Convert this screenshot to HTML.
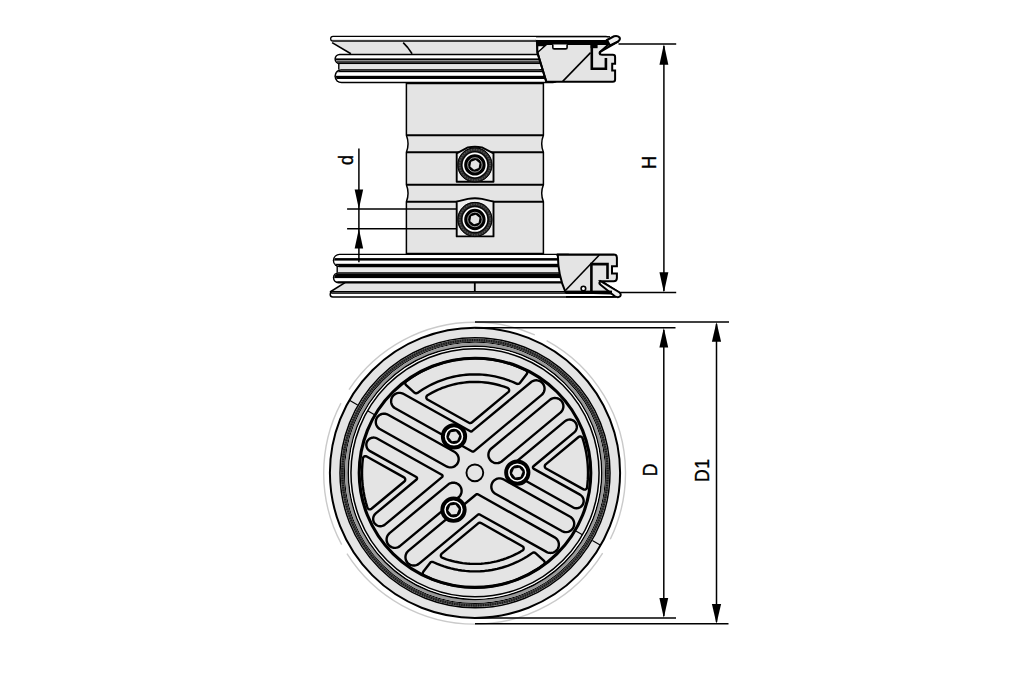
<!DOCTYPE html>
<html><head><meta charset="utf-8"><style>
html,body{margin:0;padding:0;background:#fff;width:1010px;height:673px;overflow:hidden}
svg{display:block}
</style></head><body>
<svg width="1010" height="673" viewBox="0 0 1010 673">
<rect width="1010" height="673" fill="#fff"/>
<path d="M406.4,83.6 L543.4,83.6 L543.4,135.3 Q540.0,143.8 543.4,152.3 L543.4,184.8 Q540.0,193.3 543.4,201.7 L543.4,253.5 L406.4,253.5 L406.4,201.7 Q409.7,193.3 406.4,184.8 L406.4,152.3 Q409.7,143.8 406.4,135.3 Z" fill="#e4e4e4" stroke="#000" stroke-width="1.5"/>
<g stroke="#000" stroke-width="2.1">
<line x1="406.4" y1="135.3" x2="543.4" y2="135.3"/>
<line x1="406.4" y1="152.3" x2="543.4" y2="152.3"/>
<line x1="406.4" y1="184.8" x2="543.4" y2="184.8"/>
<line x1="406.4" y1="201.7" x2="543.4" y2="201.7"/>
</g>
<path d="M456.7,181.8 L456.7,153.3 L467.9,147.4 Q474.9,146.2 481.9,147.4 L493.5,153.3 L493.5,181.8Z" fill="#efefef" stroke="#000" stroke-width="1.9" stroke-linejoin="round"/><circle cx="474.9" cy="164.9" r="14.9" fill="#000" stroke="#2a2a2a" stroke-width="5"/><circle cx="474.9" cy="164.9" r="17.1" fill="none" stroke="#000" stroke-width="1"/><circle cx="474.9" cy="164.9" r="15.3" fill="none" stroke="#555" stroke-width="1.5" stroke-dasharray="1.2 1.4"/><circle cx="474.9" cy="164.9" r="13.4" fill="none" stroke="#000" stroke-width="1"/><circle cx="474.9" cy="164.9" r="11.5" fill="none" stroke="#fff" stroke-width="1.6"/><circle cx="474.9" cy="164.9" r="7.25" fill="none" stroke="#c8c8c8" stroke-width="0.8"/><path d="M474.05,169.73 470.3,166.58 471.15,161.75 475.75,160.07 479.5,163.22 478.65,168.05Z" fill="#e4e4e4"/>
<path d="M456.7,236.4 L456.7,201.7 L467.9,198.9 Q474.9,197.7 481.9,198.9 L493.5,201.7 L493.5,236.4Z" fill="#efefef" stroke="#000" stroke-width="1.9" stroke-linejoin="round"/><circle cx="474.9" cy="219.5" r="14.9" fill="#000" stroke="#2a2a2a" stroke-width="5"/><circle cx="474.9" cy="219.5" r="17.1" fill="none" stroke="#000" stroke-width="1"/><circle cx="474.9" cy="219.5" r="15.3" fill="none" stroke="#555" stroke-width="1.5" stroke-dasharray="1.2 1.4"/><circle cx="474.9" cy="219.5" r="13.4" fill="none" stroke="#000" stroke-width="1"/><circle cx="474.9" cy="219.5" r="11.5" fill="none" stroke="#fff" stroke-width="1.6"/><circle cx="474.9" cy="219.5" r="7.25" fill="none" stroke="#c8c8c8" stroke-width="0.8"/><path d="M474.05,224.33 470.3,221.18 471.15,216.35 475.75,214.67 479.5,217.82 478.65,222.65Z" fill="#e4e4e4"/>
<path d="M331.5,41.8 L537.5,41.8 L538.5,54 L351,54 Z" fill="#e4e4e4"/>
<rect x="330" y="35.8" width="279" height="6" rx="3" fill="#000"/><clipPath id="cb1"><rect x="331.3" y="37.1" width="276.4" height="3.4" rx="1.7"/></clipPath><rect x="331.3" y="37.1" width="276.4" height="3.4" rx="1.7" fill="#fff"/><g clip-path="url(#cb1)"><rect x="330" y="39.9" width="279" height="1.9" fill="#000"/></g>
<rect x="334.4" y="53.7" width="225.6" height="10.6" rx="5.3" fill="#000"/><clipPath id="cb2"><rect x="335.9" y="55.2" width="222.6" height="7.6" rx="3.8"/></clipPath><rect x="335.9" y="55.2" width="222.6" height="7.6" rx="3.8" fill="#fff"/><g clip-path="url(#cb2)"><rect x="334.4" y="58.4" width="225.6" height="2" fill="#000"/><rect x="334.4" y="60.4" width="225.6" height="0.8" fill="#8a8a8a"/><rect x="334.4" y="61.3" width="225.6" height="3" fill="#000"/></g>
<rect x="334.4" y="69" width="225.6" height="14.3" rx="7.1" fill="#000"/><clipPath id="cb3"><rect x="335.9" y="70.5" width="222.6" height="11.3" rx="5.6"/></clipPath><rect x="335.9" y="70.5" width="222.6" height="11.3" rx="5.6" fill="#fff"/><g clip-path="url(#cb3)"><rect x="334.4" y="69" width="225.6" height="3.2" fill="#000"/><rect x="334.4" y="75.8" width="225.6" height="3.2" fill="#000"/></g>
<rect x="339.5" y="64.3" width="200" height="4.9" fill="#e4e4e4"/>
<line x1="338.8" y1="64" x2="338.8" y2="69.5" stroke="#000" stroke-width="1.4"/>
<line x1="332.1" y1="42.6" x2="350.9" y2="53.8" stroke="#000" stroke-width="1.6"/>
<path d="M403.2,42.6 L407.6,47.4 L412.1,53.8" fill="none" stroke="#000" stroke-width="1.6" stroke-linejoin="round"/>
<path d="M537.3,44 L537.5,52.8 Q541.5,66 546.3,81.8 L612.8,81.8 Q615.1,81.8 615.1,79.5 L615.1,70.6 L612.2,70.6 L612.2,63.7 L615.1,63.7 L615.1,57 Q615.1,54.7 612.8,54.7 L602.2,54.7 Q599.6,54.7 599.8,52.3 L609,44 Z" fill="#e4e4e4" stroke="#000" stroke-width="2"/>
<path d="M536.8,39.5 L537.5,52.8 Q541.5,66 546.3,81.8" fill="none" stroke="#000" stroke-width="2"/>
<rect x="536" y="36.1" width="74" height="1.5" fill="#000"/>
<rect x="536" y="39.9" width="73" height="4.1" fill="#000"/>
<rect x="536" y="37.6" width="73" height="2.3" fill="#fff"/>
<path d="M607,40 L614,36.3 Q617.5,35.3 619.6,37.5 Q620.6,39.3 618.4,41.3 L610,45.5 Z" fill="#f0f0f0" stroke="#000" stroke-width="2"/>
<path d="M618.4,41.3 L600.2,51.8 Q599,53.4 600.6,54.7" fill="none" stroke="#000" stroke-width="2"/>
<rect x="590.6" y="44.6" width="7" height="3.6" fill="#000"/>
<path d="M537.6,45.6 L545.2,45.6 L537.6,52.4 Z" fill="#fff" stroke="#000" stroke-width="1.4"/>
<path d="M552.8,44.6 L552.8,47.4 Q552.8,48.9 554.3,48.9 L565.6,48.9 Q567.1,48.9 567.1,47.4 L567.1,44.6" fill="#fff" stroke="#000" stroke-width="1.6"/>
<path d="M591.8,44.5 L591.8,68.8 L605.9,68.8 L605.9,58" fill="none" stroke="#000" stroke-width="2.6"/>
<line x1="562.7" y1="81.4" x2="590.6" y2="52.6" stroke="#000" stroke-width="1.6"/>
<path d="M343.9,283 L563.5,283 L566,291.2 L330.2,291.2 Z" fill="#e4e4e4"/>
<rect x="338" y="266.5" width="222" height="6" fill="#e8e8e8"/>
<rect x="332.8" y="253.7" width="242.2" height="13.5" rx="6.7" fill="#000"/><clipPath id="cb4"><rect x="334.1" y="255" width="239.6" height="10.9" rx="5.4"/></clipPath><rect x="334.1" y="255" width="239.6" height="10.9" rx="5.4" fill="#fff"/><g clip-path="url(#cb4)"><rect x="332.8" y="258.1" width="242.2" height="2.5" fill="#000"/><rect x="332.8" y="263.8" width="242.2" height="3.4" fill="#000"/></g>
<rect x="332.8" y="272.2" width="242.2" height="11.2" rx="5.6" fill="#000"/><clipPath id="cb5"><rect x="334.3" y="273.7" width="239.2" height="8.2" rx="4.1"/></clipPath><rect x="334.3" y="273.7" width="239.2" height="8.2" rx="4.1" fill="#fff"/><g clip-path="url(#cb5)"><rect x="332.8" y="272.2" width="242.2" height="5.9" fill="#000"/><rect x="332.8" y="281.2" width="242.2" height="2.2" fill="#000"/></g>
<rect x="329.5" y="291.1" width="287.5" height="6.6" rx="3.3" fill="#000"/><clipPath id="cb6"><rect x="331" y="292.6" width="284.5" height="3.6" rx="1.8"/></clipPath><rect x="331" y="292.6" width="284.5" height="3.6" rx="1.8" fill="#fff"/><g clip-path="url(#cb6)"><rect x="329.5" y="291.1" width="287.5" height="2.7" fill="#000"/></g>
<line x1="337.2" y1="266" x2="337.2" y2="272.8" stroke="#000" stroke-width="1.4"/>
<path d="M345,282.6 L330,292" stroke="#000" stroke-width="1.6" fill="none"/>
<line x1="474.8" y1="282.6" x2="474.8" y2="291.3" stroke="#000" stroke-width="1.8"/>
<path d="M557.8,254.6 L613.9,254.6 Q616.9,254.6 616.9,257.6 L616.9,266.2 L612,266.2 L612,273.5 L616.9,273.5 L616.9,278 Q616.9,281.2 613.7,281.2 L601.2,281.2 L617.5,291.5 L612,293.5 L565.6,292.3 Q558,276 557.8,254.6 Z" fill="#e4e4e4" stroke="#000" stroke-width="2"/>
<path d="M556,254.7 L613.9,254.7" stroke="#000" stroke-width="1.6"/>
<path d="M600.2,281 Q598.5,283.2 600.5,284.8 L614.5,296 Q618,298.2 620.2,296.3 Q621.8,293.8 618.8,292 Z" fill="#f0f0f0" stroke="#000" stroke-width="2"/>
<path d="M591.4,291.3 L591.4,264.1 L607.5,264.1 L607.5,279" fill="none" stroke="#000" stroke-width="2.6"/>
<line x1="565.6" y1="290.2" x2="599.3" y2="255" stroke="#000" stroke-width="1.6"/>
<rect x="566" y="290.6" width="46" height="3.2" fill="#000"/>
<circle cx="583.4" cy="288.5" r="2.3" fill="#fff" stroke="#000" stroke-width="1.6"/>
<rect x="566" y="296" width="50" height="1.7" fill="#000"/>

<g id="bottom">
 <circle cx="474.6" cy="473.2" r="150.9" fill="none" stroke="#cacaca" stroke-width="1.4" stroke-dasharray="68.34 15.77 304.90 10.51 147.19 15.77 210.28 13.14 160.35 0.00"/>
 <circle cx="475.0" cy="472.8" r="145.1" fill="#e4e4e4" stroke="#000" stroke-width="2.0"/>
 <g fill="none">
  <circle cx="475.0" cy="472.8" r="135" stroke="#000" stroke-width="1.5"/>
  <circle cx="475.0" cy="472.8" r="132.65" stroke="#4a4a4a" stroke-width="3.1"/>
  <circle cx="475.0" cy="472.8" r="132.65" stroke="#1a1a1a" stroke-width="2.2" stroke-dasharray="1.3 1.1"/>
  <circle cx="475.0" cy="472.8" r="130.55" stroke="#000" stroke-width="1.1"/>
  <circle cx="475.0" cy="472.8" r="128.7" stroke="#9a9a9a" stroke-width="2.6"/>
  <circle cx="475.0" cy="472.8" r="126.65" stroke="#000" stroke-width="1.5"/>
  <circle cx="475.0" cy="472.8" r="125.35" stroke="#fff" stroke-width="1.1"/>
  <circle cx="475.0" cy="472.8" r="124.05" stroke="#000" stroke-width="1.5"/>
  <ellipse cx="475.0" cy="472.8" rx="115.8" ry="114.6" stroke="#000" stroke-width="3.1"/>
 </g>
 <line x1="592.35" y1="540.55" x2="600.14" y2="545.05" stroke="#000" stroke-width="1.2"/><line x1="575.03" y1="530.55" x2="582.39" y2="534.8" stroke="#000" stroke-width="1.2"/><line x1="357.65" y1="405.05" x2="349.86" y2="400.55" stroke="#000" stroke-width="1.2"/><line x1="374.97" y1="415.05" x2="367.61" y2="410.8" stroke="#000" stroke-width="1.2"/>
 <path d="M561.86,531.06 563.35,531.71 564.74,532.03 566.36,532.1 567.97,531.86 569.5,531.3 570.89,530.46 572.09,529.36 572.95,528.22 573.67,526.76 574.1,525.19 574.21,523.57 574.05,522.16 573.57,520.6 572.79,519.17 571.9,518.06 570.66,517.01 502.93,479.07 501.58,478.62 500.17,478.4 498.75,478.42 497.35,478.69 496.02,479.19 494.79,479.92 493.71,480.84 492.8,481.93 492,483.35 491.5,484.9 491.31,486.52 491.43,488.14 491.88,489.7 492.61,491.15 493.62,492.43 494.86,493.49ZM388.14,414.74 386.65,414.09 385.06,413.74 383.43,413.71 382.03,413.94 380.5,414.5 379.11,415.34 378.05,416.29 377.05,417.58 376.33,419.04 375.9,420.61 375.79,422.23 375.95,423.64 376.43,425.2 377.1,426.46 378.1,427.74 379.34,428.79 447.07,466.73 448.42,467.18 449.83,467.4 451.25,467.38 452.65,467.11 453.98,466.61 455.21,465.88 456.29,464.96 457.2,463.87 458,462.45 458.5,460.9 458.69,459.28 458.57,457.66 458.12,456.1 457.39,454.65 456.38,453.37 455.14,452.31ZM560.42,412.65 561.43,411.65 562.36,410.31 563.01,408.82 563.36,407.23 563.39,405.61 563.1,404 562.5,402.49 561.75,401.28 560.8,400.22 559.51,399.23 558.05,398.51 556.48,398.08 554.86,397.97 553.44,398.14 551.89,398.62 550.46,399.4 490.77,449.04 489.86,450.13 489.16,451.37 488.67,452.71 488.42,454.11 488.41,455.53 488.64,456.94 489.12,458.28 489.81,459.52 490.85,460.78 492.12,461.8 493.56,462.56 495.12,463.02 496.74,463.17 498.35,463 499.91,462.52 501.34,461.74ZM389.58,533.15 388.44,534.31 387.54,535.66 386.99,536.98 386.64,538.57 386.61,540.19 386.9,541.8 387.5,543.31 388.25,544.52 389.35,545.72 390.67,546.68 392.14,547.36 393.52,547.72 395.14,547.83 396.76,547.62 398.3,547.1 399.54,546.4 459.23,496.76 460.14,495.67 460.84,494.43 461.33,493.09 461.58,491.69 461.59,490.27 461.36,488.86 460.88,487.52 460.19,486.28 459.15,485.02 457.88,484 456.44,483.24 454.88,482.78 453.26,482.63 451.65,482.8 450.09,483.28 448.66,484.06ZM579.97,494.67 533.45,468.58 533.17,468.26 533.03,468 532.93,467.58 532.93,467.29 533.04,466.87 533.17,466.61 533.46,466.29 574.24,432.37 575.12,431.5 575.94,430.34 576.51,429.03 576.81,427.65 576.84,426.23 576.59,424.83 576.07,423.5 575.31,422.31 574.32,421.28 573.32,420.56 572.32,420.07 571.14,419.71 569.91,419.55 568.69,419.6 567.49,419.86 566.45,420.27 565.38,420.91 507.99,468.62 507.75,468.86 507.56,469.18 507.46,469.52 507.44,469.88 507.5,470.24 507.66,470.57 507.88,470.85 508.21,471.1 573.34,507.55 574.38,507.95 575.57,508.19 576.8,508.23 577.9,508.09 579.06,507.75 580.17,507.21 581.08,506.56 581.94,505.71 582.76,504.52 583.33,503.21 583.54,502.4 583.65,501.69 583.64,500.26 583.35,498.84 582.8,497.52 582.35,496.81 581.91,496.25 580.85,495.25ZM545.68,464.32 545.21,464.83 544.93,465.36 544.78,465.95 544.78,466.55 544.92,467.14 545.2,467.67 545.6,468.12 546.06,468.46 583.52,489.42 583.98,489.58 584.46,489.65 585.3,489.55 585.75,489.37 586.15,489.1 586.71,488.46 586.92,488.02 587.05,487.52 587.45,484.04 587.78,479.89 587.96,475.73 588,472.27 587.9,468.11 587.7,464.65 587.39,461.2 586.89,457.07 586.35,453.64 585.56,449.56 584.79,446.18 583.74,442.15 582.51,438.11 582.08,437.34 581.45,436.78 580.78,436.49 579.93,436.42 579.22,436.59 578.57,436.97ZM472.16,451.48 472.64,451.66 473.09,451.67 473.52,451.55 473.89,451.32 542.02,394.63 543.07,393.38 543.51,392.69 543.87,391.95 544.16,391.19 544.37,390.4 544.5,389.59 544.56,388.77 544.53,387.95 544.42,387.14 544.24,386.34 543.97,385.56 543.63,384.82 543.22,384.11 542.75,383.44 542.2,382.82 540.99,381.79 539.75,381.07 538.39,380.57 536.99,380.32 535.55,380.31 534.14,380.54 532.76,381.03 531.51,381.73 472.02,431.16 471.63,431.39 471.2,431.5 470.75,431.47 470.33,431.31 402.83,393.56 401.46,393.09 400.05,392.87 398.62,392.89 397.21,393.16 395.87,393.66 394.63,394.39 393.54,395.31 392.6,396.44 392.17,397.13 391.81,397.86 391.52,398.63 391.3,399.42 391.17,400.23 391.11,401.05 391.14,401.87 391.24,402.68 391.43,403.48 391.69,404.25 392.03,405 392.44,405.71 392.91,406.38 393.45,407 394.05,407.56 394.7,408.06ZM427.54,395.26 426.99,395.71 426.62,396.21 426.4,396.78 426.32,397.39 426.39,398.01 426.61,398.58 426.97,399.09 427.44,399.49 468.94,422.75 469.61,423.01 470.36,423.07 471.09,422.91 471.82,422.48 508.23,392.2 508.64,391.77 508.95,391.24 509.1,390.77 509.15,390.15 509.01,389.43 508.66,388.77 508.14,388.25 507.52,387.91 504.12,386.69 500.4,385.52 496.62,384.51 493.35,383.77 490.61,383.25 487.85,382.81 485.08,382.46 481.75,382.15 478.4,381.96 475.61,381.9 472.26,381.94 469.47,382.07 466.69,382.28 463.91,382.58 461.15,382.96 458.39,383.43 455.66,383.98 452.94,384.61 450.24,385.33 447.57,386.13 444.92,387.02 442.3,387.98 439.71,389.02 437.15,390.14 434.63,391.34 432.15,392.62ZM406.27,381.2 405.84,381.59 405.56,382 405.37,382.44 405.26,382.92 405.25,383.41 405.33,383.9 405.51,384.35 405.85,384.86 414.64,392.78 415.05,393.03 415.5,393.21 416.34,393.29 416.93,393.18 417.48,392.93 420.31,390.98 423.35,389.03 426.47,387.18 429.14,385.73 432.36,384.11 435.11,382.84 437.89,381.66 440.7,380.56 443.57,379.55 447.01,378.46 449.93,377.64 453.44,376.79 456.42,376.17 459.97,375.55 462.98,375.14 465.99,374.81 469.59,374.55 472.62,374.43 476.23,374.41 479.25,374.49 482.29,374.67 485.88,375 488.89,375.39 491.88,375.86 494.85,376.42 497.8,377.07 500.73,377.82 503.63,378.65 507.08,379.77 510.47,381.01 513.83,382.38 516.99,383.79 517.57,383.93 518.29,383.92 518.76,383.79 519.19,383.58 519.58,383.29 519.88,382.96 526.79,373.96 527.19,373.17 527.29,372.32 527.21,371.84 526.98,371.27 526.63,370.77 526.16,370.38 522.78,368.74 518.91,367.05 514.33,365.26 509.67,363.67 504.95,362.28 500.17,361.1 496.04,360.25 491.88,359.55 487.69,359.01 483.49,358.62 479.28,358.38 475.06,358.3 470.84,358.38 466.63,358.61 463.13,358.92 458.94,359.43 454.78,360.1 450.64,360.92 446.53,361.89 443.14,362.82 439.11,364.06 435.13,365.46 431.2,367 427.97,368.39 424.16,370.19 420.41,372.14 416.74,374.21 413.15,376.42 409.64,378.77ZM416.31,477.05 416.65,477.32 416.83,477.54 416.97,477.8 417.07,478.22 417.05,478.66 416.96,478.93 416.74,479.31 416.54,479.51 375.76,513.43 374.88,514.3 374.06,515.46 373.49,516.77 373.19,518.15 373.16,519.57 373.41,520.97 373.93,522.3 374.69,523.49 375.68,524.52 376.69,525.24 377.8,525.78 378.87,526.1 380.09,526.25 381.31,526.2 382.51,525.94 383.67,525.47 384.62,524.89 442.01,477.18 442.25,476.94 442.44,476.62 442.54,476.28 442.56,475.92 442.5,475.56 442.34,475.23 442.12,474.95 441.79,474.7 376.66,438.25 375.62,437.85 374.43,437.61 373.2,437.57 372.1,437.71 370.94,438.05 369.83,438.59 368.92,439.24 368.06,440.09 367.24,441.28 366.67,442.59 366.46,443.4 366.35,444.11 366.36,445.54 366.65,446.96 367.2,448.28 367.65,448.99 368.09,449.55 369.15,450.55 370.03,451.13ZM366.67,456.47 366.14,456.25 365.54,456.15 364.94,456.19 364.36,456.38 363.85,456.7 363.43,457.14 363.17,457.56 362.98,458.13 362.62,461.07 362.36,463.83 362.06,469.37 362.02,474.92 362.25,480.46 362.76,485.98 363.54,491.47 364.58,496.92 365.89,502.31 367.05,506.31 367.49,507.69 367.71,508.16 368.17,508.73 368.66,509.08 369.34,509.33 370.07,509.38 370.78,509.21 371.48,508.79 404.32,481.48 404.72,481.07 405.03,480.55 405.2,479.97 405.23,479.37 405.12,478.78 404.87,478.23 404.49,477.76 403.99,477.37ZM477.98,514.64 478.37,514.41 478.8,514.3 479.25,514.33 479.67,514.49 546.45,551.88 547.37,552.33 548.14,552.6 548.94,552.8 549.75,552.91 550.57,552.95 551.38,552.91 552.19,552.79 552.99,552.58 553.76,552.31 554.5,551.95 555.2,551.53 555.86,551.04 556.46,550.49 557.01,549.88 557.5,549.22 557.92,548.51 558.26,547.77 558.69,546.4 558.88,544.98 558.82,543.55 558.52,542.15 557.98,540.82 557.23,539.61 556.26,538.52 555.13,537.63 477.84,494.32 477.36,494.14 476.91,494.13 476.48,494.25 476.11,494.48 407.99,551.17 407.05,552.25 406.3,553.47 405.78,554.81 405.5,556.22 405.46,557.65 405.7,559.23 406.18,560.59 406.87,561.83 407.36,562.5 407.92,563.1 408.53,563.65 409.19,564.13 409.89,564.55 410.64,564.9 411.41,565.17 412.2,565.36 413.02,565.48 413.83,565.52 414.65,565.47 415.46,565.35 416.26,565.15 417.03,564.87 418.46,564.09 419.14,563.58ZM441.77,553.6 441.36,554.03 441.05,554.56 440.88,555.15 440.85,555.65 440.95,556.25 441.14,556.71 441.41,557.12 441.86,557.55 442.72,557.98 446.41,559.29 449.6,560.28 452.3,561.02 455.56,561.8 459.39,562.55 462.7,563.07 466.58,563.51 469.93,563.76 473.83,563.89 477.74,563.86 481.09,563.7 484.42,563.41 487.75,563 490.51,562.57 493.8,561.94 496.52,561.32 499.76,560.47 502.96,559.5 506.13,558.41 509.78,556.99 513.35,555.42 516.86,553.7 520.29,551.83 522.46,550.54 523.01,550.09 523.31,549.7 523.53,549.26 523.65,548.78 523.68,548.28 523.58,547.67 523.33,547.11 522.95,546.62 522.38,546.2 481.06,523.05 480.39,522.79 479.64,522.73 478.91,522.89 478.18,523.32ZM423.25,571.79 422.94,572.28 422.76,572.87 422.71,573.35 422.79,573.96 423.02,574.53 423.29,574.94 423.64,575.28 424.13,575.59 427.22,577.06 429.79,578.21 432.39,579.28 435.67,580.54 441,582.34 444.38,583.33 447.09,584.05 451.2,585 456.04,585.92 460.91,586.63 465.81,587.13 470.72,587.42 474.94,587.5 479.16,587.42 484.07,587.14 488.27,586.73 492.45,586.16 496.61,585.44 501.42,584.41 505.51,583.37 510.22,581.95 514.21,580.58 518.15,579.07 522.67,577.12 527.1,574.97 531.43,572.64 535.66,570.13 539.78,567.43 543.9,564.47 544.31,564.01 544.59,563.47 544.72,563 544.75,562.39 544.54,561.56 544.06,560.85 535.52,553.16 535.06,552.82 534.62,552.63 534.15,552.52 533.66,552.51 533.07,552.62 532.52,552.87 529.7,554.81 527.16,556.45 524.58,558.01 521.94,559.49 517.62,561.7 512.67,563.91 507.59,565.85 502.41,567.51 497.15,568.88 491.81,569.95 488.22,570.51 484.61,570.93 480.41,571.25 476.79,571.38 473.16,571.38 469.52,571.25 465.32,570.92 461.72,570.5 458.12,569.94 454.56,569.26 451.03,568.44 447.53,567.49 444.08,566.42 441.22,565.43 437.27,563.89 433.01,562.01 432.55,561.88 432.07,561.85 431.59,561.9 431.02,562.1 430.61,562.36 430.25,562.68Z" fill="none" stroke="#000" stroke-width="2.4" stroke-linejoin="round"/>
 <circle cx="474.85" cy="472.85" r="8.4" fill="none" stroke="#000" stroke-width="1.9"/>
 <circle cx="454" cy="436.4" r="10.9" fill="#000" stroke="#000" stroke-width="4.45"/><circle cx="454" cy="436.4" r="8.45" fill="none" stroke="#fff" stroke-width="1.5"/><path d="M459.25,435.66 457.26,440.58 452.01,441.31 448.75,437.14 450.74,432.22 455.99,431.49Z" fill="#e4e4e4"/><circle cx="517.3" cy="472.6" r="10.9" fill="#000" stroke="#000" stroke-width="4.45"/><circle cx="517.3" cy="472.6" r="8.45" fill="none" stroke="#fff" stroke-width="1.5"/><path d="M522.55,471.86 520.56,476.78 515.31,477.51 512.05,473.34 514.04,468.42 519.29,467.69Z" fill="#e4e4e4"/><circle cx="453.5" cy="509.7" r="10.9" fill="#000" stroke="#000" stroke-width="4.45"/><circle cx="453.5" cy="509.7" r="8.45" fill="none" stroke="#fff" stroke-width="1.5"/><path d="M458.75,508.96 456.76,513.88 451.51,514.61 448.25,510.44 450.24,505.52 455.49,504.79Z" fill="#e4e4e4"/>
</g>

<g stroke="#000" stroke-width="1.5" fill="none">
 <line x1="475" y1="321.9" x2="729" y2="321.9"/>
 <line x1="475" y1="327.7" x2="675.5" y2="327.7"/>
 <line x1="475" y1="617.9" x2="676" y2="617.9"/>
 <line x1="475" y1="623.7" x2="728.5" y2="623.7"/>
 <line x1="663.8" y1="330" x2="663.8" y2="616"/>
 <line x1="716.5" y1="324" x2="716.5" y2="622"/>
 <line x1="618.5" y1="44.1" x2="676.2" y2="44.1"/>
 <line x1="619" y1="292.6" x2="676.2" y2="292.6"/>
 <line x1="663.9" y1="46" x2="663.9" y2="291"/>
 <line x1="358.9" y1="148.4" x2="358.9" y2="262.2"/>
 <line x1="347.1" y1="208.9" x2="456.5" y2="208.9"/>
 <line x1="347.1" y1="228.8" x2="456.5" y2="228.8"/>
</g>
<g fill="#000">
 <path d="M663.8,327.7 L659.4,347.5 L668.2,347.5Z" fill="#000"/>
 <path d="M663.8,617.9 L659.4,598.1 L668.2,598.1Z" fill="#000"/>
 <path d="M716.5,321.9 L711.9,341.7 L721.1,341.7Z" fill="#000"/>
 <path d="M716.5,623.7 L711.9,603.9 L721.1,603.9Z" fill="#000"/>
 <path d="M663.9,44.1 L659.45,64.7 L668.35,64.7Z" fill="#000"/>
 <path d="M663.9,292.6 L659.45,272.3 L668.35,272.3Z" fill="#000"/>
 <path d="M358.9,208.9 L354.65,189.5 L363.15,189.5Z" fill="#000"/>
 <path d="M358.9,228.8 L354.65,248.4 L363.15,248.4Z" fill="#000"/>
</g>
<g font-family="Liberation Sans, sans-serif" fill="#000" stroke="#000" stroke-width="0.35" font-size="21">
 <text transform="translate(656.7,469.8) rotate(-90) scale(0.85,1)" text-anchor="middle">D</text>
 <text transform="translate(709.2,482.0) rotate(-90) scale(0.84,1)">D</text>
 <text transform="translate(709.2,468.8) rotate(-90) scale(0.84,1)">1</text>
 <text transform="translate(656.4,162.5) rotate(-90) scale(0.87,1)" text-anchor="middle">H</text>
 <text transform="translate(353,160.1) rotate(-90) scale(0.86,1)" text-anchor="middle">d</text>
</g>
</svg>
</body></html>
